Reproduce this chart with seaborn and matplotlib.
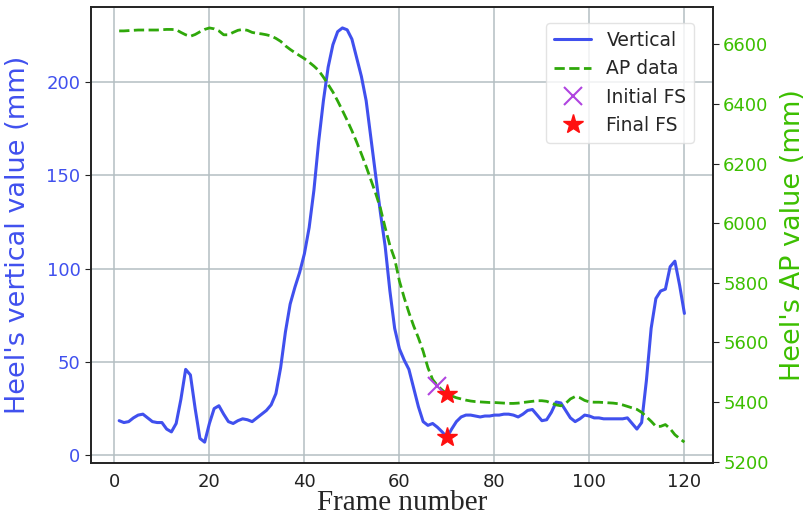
import numpy as np
import pandas as pd
import seaborn as sns
import matplotlib.pyplot as plt

# Frames 1..120
frames = list(range(1, 121))

# Heel vertical value (mm)
vertical = [18.5, 17.5, 18, 20, 21.5, 22, 20, 18, 17.5, 17.5,
            14, 12.5, 17, 30, 46, 43, 25, 9, 7, 17,
            25, 26.5, 22, 18, 17, 18.5, 19.5, 19, 18, 20,
            22, 24, 27, 33, 47, 66, 81, 90, 98, 108,
            122, 142, 168, 190, 208, 220, 227, 229, 228, 223,
            213, 203, 190, 170, 150, 130, 112, 88, 68, 57,
            51, 46, 36, 26, 18, 16, 17, 15, 12.5, 9.5,
            14, 18, 20.5, 21.5, 21.5, 21, 20.5, 21, 21, 21.5,
            21.5, 22, 22, 21.5, 20.5, 22, 24, 24.5, 21.5, 18.5,
            19, 23, 28.5, 28, 24, 20, 18, 19.5, 21.5, 21,
            20, 20, 19.5, 19.5, 19.5, 19.5, 19.5, 20, 17, 14,
            17.5, 40, 68, 84, 88, 89, 101, 104, 91, 76]

# Heel AP value (mm)
ap_data = [6645, 6645, 6646, 6647, 6648, 6648, 6648, 6648, 6648, 6649,
           6650, 6650, 6649, 6640, 6632, 6627, 6633, 6642, 6650, 6655,
           6652, 6645, 6632, 6632, 6640, 6647, 6650, 6647, 6640, 6637,
           6635, 6632, 6628, 6620, 6610, 6595, 6583, 6572, 6562, 6552,
           6540, 6527, 6512, 6490, 6465, 6440, 6410, 6378, 6345, 6310,
           6272, 6232, 6190, 6145, 6100, 6050, 5985, 5925, 5880, 5806,
           5750, 5700, 5655, 5615, 5570, 5515, 5475, 5455, 5440, 5427,
           5420, 5414, 5410, 5406, 5403, 5401, 5400, 5399, 5398, 5398,
           5397, 5396, 5395, 5395, 5396, 5398, 5400, 5402, 5404, 5404,
           5402, 5396, 5390, 5387, 5395, 5410, 5418, 5414, 5405, 5400,
           5399, 5399, 5398, 5397, 5396, 5394, 5390, 5385, 5380, 5375,
           5365, 5350, 5335, 5318, 5318, 5324, 5310, 5290, 5277, 5265]

# foot strike events
initial_fs_frame = [68]
initial_fs_ap = [5455]
final_fs_frame = [70, 70]
final_fs_vert = [9.5]
final_fs_ap = [5427]

blue = "#4050ee"
green = "#2fa80a"
green_txt = "#3cbf00"

df = pd.DataFrame({"frame": frames, "vertical": vertical, "ap": ap_data})

sns.set_style("white")
plt.rcParams["font.family"] = ["DejaVu Sans"]

fig, ax = plt.subplots(figsize=(8.08, 5.16), dpi=100)
fig.subplots_adjust(left=0.1125, right=0.882, top=0.986, bottom=0.103)
ax2 = ax.twinx()

sns.lineplot(data=df, x="frame", y="vertical", ax=ax, color=blue, lw=2.2, label="Vertical", legend=False)
sns.lineplot(data=df, x="frame", y="ap", ax=ax2, color=green, lw=2.0, linestyle="--", label="AP data", legend=False)

h_init, = ax2.plot(initial_fs_frame, initial_fs_ap, ls="none", marker="x", color="#b044e0",
                   markersize=13, mew=1.5, label="Initial FS")
h_fin, = ax2.plot(final_fs_frame[:1], final_fs_ap, ls="none", marker="*", color="#ff1010",
                  markersize=15, label="Final FS")
ax.plot(final_fs_frame[1:], final_fs_vert, ls="none", marker="*", color="#ff1010", markersize=15)

ax.set_xticks(range(0, 121, 20))
ax.set_yticks(range(0, 201, 50))
ax2.set_yticks(range(5200, 6601, 200))
ax.grid(True, color="#b4bec2", lw=1.1)
ax2.grid(False)

for a in (ax, ax2):
    for s in a.spines.values():
        s.set_color("#222222")
        s.set_linewidth(1.2)
ax.tick_params(axis="both", labelsize=13, length=4, color="#222222")
ax.tick_params(axis="x", colors="#222222", labelcolor="#222222")
ax.tick_params(axis="y", labelcolor=blue)
ax2.tick_params(axis="y", labelsize=13, length=4, labelcolor=green_txt, color="#222222")

ax.set_xlabel("Frame number", family="Liberation Serif", fontsize=21, labelpad=-1)
ax.set_ylabel("Heel's vertical value (mm)", color=blue, fontsize=19.5, labelpad=11)
ax2.set_ylabel("Heel's AP value (mm)", color=green_txt, fontsize=19.5, labelpad=8)

h1, l1 = ax.get_legend_handles_labels()
h2, l2 = ax2.get_legend_handles_labels()
leg = ax2.legend(h1 + h2, l1 + l2, loc="upper right", fontsize=13.5, frameon=True,
                 bbox_to_anchor=(0.985, 0.985))
leg.get_frame().set_edgecolor("#dddddd")

fig.savefig("out.png", dpi=100)
